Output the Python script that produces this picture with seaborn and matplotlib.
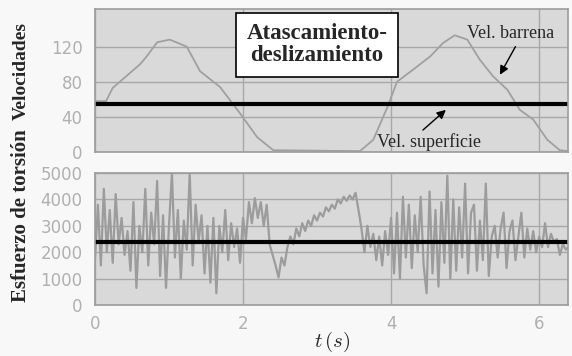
import numpy as np
import pandas as pd
import seaborn as sns
import matplotlib.pyplot as plt

# velocidad de la barrena
t_vel = [0.0, 0.15, 0.24, 0.61, 0.70, 0.84, 1.01, 1.24, 1.42, 1.69, 1.96, 2.19, 2.41,
         3.58, 3.76, 3.95, 4.08, 4.30, 4.53, 4.70, 4.86, 5.03, 5.20, 5.38, 5.57, 5.74,
         5.92, 6.11, 6.28, 6.39]
vel_barrena = [58, 58, 73, 100, 109, 125, 128, 120, 92, 74, 44, 17, 2,
               1, 14, 51, 80, 94, 109, 124, 133, 128, 105, 86, 71, 48,
               37, 14, 2, 1]
vel_superficie = 55

# esfuerzo de torsion, una muestra cada 0.04 s
dt = 0.04
torque = [1700, 3800, 1500, 4400, 2000, 3600, 1600, 4200, 2300, 3300, 1900,
          2800, 1300, 3900, 650, 3000, 2000, 4400, 1500, 3500, 2300,
          4700, 1100, 3400, 650, 3000, 5000, 1800, 3600, 1000, 3200,
          2100, 5000, 1500, 3800, 2400, 3400, 1200, 3000, 850, 3300,
          450, 3000, 2000, 3600, 1700, 3100, 2200, 2900, 1600, 3300,
          2500, 3900, 3100, 4050, 3300, 3900, 3000, 3800, 2300, 1900,
          1500, 1050, 1800, 1500, 2200, 2600, 2300, 2900, 2600, 3100,
          2800, 3200, 3000, 3400, 3200, 3500, 3350, 3700, 3550, 3800,
          3650, 4000, 3850, 4100, 3950, 4150, 4000, 4250, 3600, 2900,
          2000, 3000, 2200, 2700, 1700, 2600, 1500, 2800, 1900, 3300,
          1200, 3500, 1000, 4100, 1800, 3800, 1400, 3400, 2000, 4100,
          1500, 450, 4300, 1200, 3600, 700, 3900, 1600, 4900, 1000,
          4000, 1300, 3700, 1800, 4600, 1200, 3500, 3800, 1300, 3200,
          1700, 4600, 1100, 2600, 3000, 1800, 2900, 3500, 1400, 2800,
          3200, 1700, 2600, 3500, 1800, 2900, 2100, 2800, 2000, 2600,
          2200, 3100, 2200, 2700, 2400, 2500, 1900, 2300, 2100, 2200]
torque_medio = 2400
t_torque = np.round(np.arange(len(torque)) * dt, 2)

vel_ticks = [0, 40, 80, 120]
torque_ticks = [0, 1000, 2000, 3000, 4000, 5000]
t_ticks = [0, 2, 4, 6]

sns.set_theme(style='whitegrid', rc={
    'axes.facecolor': '#d9d9d9',
    'axes.edgecolor': '#9c9c9c',
    'axes.linewidth': 1.2,
    'grid.color': '#a8a8a8',
    'grid.linewidth': 1.0,
})
plt.rcParams['font.family'] = ['DejaVu Sans']
plt.rcParams['mathtext.fontset'] = 'cm'

fig = plt.figure(figsize=(5.72, 3.56), dpi=100, facecolor='#f8f8f8')
ax1 = fig.add_axes([0.166, 0.573, 0.827, 0.402])
ax2 = fig.add_axes([0.166, 0.143, 0.827, 0.371])

df_vel = pd.DataFrame({'t': t_vel, 'v': vel_barrena})
sns.lineplot(data=df_vel, x='t', y='v', ax=ax1, color='#a0a0a0', lw=1.3,
             estimator=None, sort=False)
ax1.axhline(vel_superficie, color='black', lw=3)

df_tq = pd.DataFrame({'t': t_torque, 'q': torque})
sns.lineplot(data=df_tq, x='t', y='q', ax=ax2, color='#9c9c9c', lw=1.6,
             estimator=None, sort=False)
ax2.axhline(torque_medio, color='black', lw=3)

for ax in (ax1, ax2):
    ax.set_xlim(0, 6.39)
    ax.set_xticks(t_ticks)
    ax.set_xlabel('')
    ax.set_ylabel('')
    ax.tick_params(length=0, labelsize=12, labelcolor='#b0b0b0', pad=9)

ax1.set_ylim(0, 163)
ax1.set_yticks(vel_ticks)
ax1.set_xticklabels([])
ax2.set_ylim(0, 5000)
ax2.set_yticks(torque_ticks)
ax2.tick_params(axis='x', pad=7)

serif = ['Liberation Serif', 'DejaVu Serif']
fig.text(0.037, 0.80, 'Velocidades', rotation=90, ha='center', va='center',
         fontsize=14, fontweight='bold', family=serif)
fig.text(0.037, 0.393, 'Esfuerzo de torsión', rotation=90, ha='center', va='center',
         fontsize=15, fontweight='bold', family=serif)
fig.text(0.580, 0.040, r'$t\,(s)$', ha='center', va='center', fontsize=15)

fig.text(0.554, 0.874, 'Atascamiento-\ndeslizamiento', ha='center', va='center',
         fontsize=16.5, fontweight='bold', family=serif, linespacing=1.05,
         bbox=dict(boxstyle='square,pad=0.45', facecolor='white', edgecolor='black', lw=1.2))

arrow = dict(arrowstyle='-|>', color='black', lw=1, mutation_scale=13, shrinkA=0, shrinkB=0)
ax1.text(5.62, 135, 'Vel. barrena', ha='center', va='center', fontsize=13, family=serif)
ax1.annotate('', xy=(5.47, 88), xytext=(5.68, 120), arrowprops=arrow)
ax1.text(4.51, 11, 'Vel. superficie', ha='center', va='center', fontsize=13, family=serif)
ax1.annotate('', xy=(4.74, 48), xytext=(4.43, 25), arrowprops=arrow)

fig.savefig('out.png', dpi=100, facecolor=fig.get_facecolor())
